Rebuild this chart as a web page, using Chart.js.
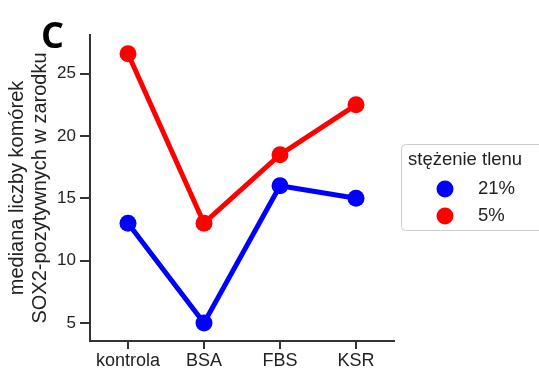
<!DOCTYPE html>
<html>
<head>
<meta charset="utf-8">
<script src="https://cdn.jsdelivr.net/npm/chart.js@4"></script>
<style>
  body { margin: 0; background: #fff; }
  #wrap { width: 539px; height: 370px; position: relative; }
</style>
</head>
<body>
<div id="wrap"><canvas id="chart" width="539" height="370"></canvas></div>
<script>
var categories = ["kontrola", "BSA", "FBS", "KSR"];
var series_names = ["21%", "5%"];
var values_21 = [13, 5, 16, 15];
var values_5 = [26.6, 13, 18.5, 22.5];
var y_ticks = [5, 10, 15, 20, 25];
var y_title = ["mediana liczby komórek", "SOX2-pozytywnych w zarodku"];
var legend_title = "stężenie tlenu";
var panel_label = "C";

var font_name = "'Liberation Sans', Arial, sans-serif";
var axis_col = "#333333";

// legend + panel letter drawn by hand, the built-in legend can't sit like this
var extras = {
    id: "extras",
    afterDraw: function (chart) {
        var ctx = chart.ctx;
        ctx.save();
        ctx.fillStyle = "#000";
        ctx.font = "bold 36px 'Open Sans', " + font_name;
        ctx.textBaseline = "alphabetic";
        ctx.fillText(panel_label, 41, 48);

        // legend frame
        ctx.strokeStyle = "#cccccc";
        ctx.lineWidth = 1;
        ctx.beginPath();
        ctx.roundRect(401.5, 144.5, 160, 86, 4);
        ctx.fillStyle = "#fff";
        ctx.fill();
        ctx.stroke();

        ctx.fillStyle = "#222";
        ctx.font = "18.5px " + font_name;
        ctx.fillText(legend_title, 408, 165);
        var ys = [189, 216];
        chart.data.datasets.forEach(function (ds, i) {
            ctx.beginPath();
            ctx.arc(445, ys[i], 8.5, 0, Math.PI * 2);
            ctx.fillStyle = ds.borderColor;
            ctx.fill();
            ctx.fillStyle = "#222";
            ctx.textBaseline = "middle";
            ctx.fillText(ds.label, 478, ys[i]);
        });
        ctx.restore();
    }
};

var chart = new Chart(document.getElementById("chart").getContext("2d"), {
    type: "line",
    data: {
        labels: categories,
        datasets: [
            {
                label: series_names[0],
                data: values_21,
                borderColor: "#0000ff",
                backgroundColor: "#0000ff",
                borderWidth: 5,
                pointRadius: 8.5,
                pointHoverRadius: 8.5,
                pointBorderWidth: 0
            },
            {
                label: series_names[1],
                data: values_5,
                borderColor: "#ff0000",
                backgroundColor: "#ff0000",
                borderWidth: 5,
                pointRadius: 8.5,
                pointHoverRadius: 8.5,
                pointBorderWidth: 0
            }
        ]
    },
    options: {
        responsive: false,
        animation: false,
        layout: { padding: { left: 0, top: 35, right: 145, bottom: 0 } },
        plugins: { legend: { display: false }, tooltip: { enabled: false } },
        scales: {
            x: {
                offset: true,
                grid: { display: true, drawOnChartArea: false, drawTicks: true, tickLength: 8, color: axis_col, lineWidth: 2, offset: false },
                border: { display: true, color: axis_col, width: 2 },
                ticks: { color: "#222", font: { family: font_name, size: 18 }, padding: 1 },
                afterFit: function (s) { s.height = 29; }
            },
            y: {
                min: 3.55,
                max: 28.1,
                grid: { display: true, drawOnChartArea: false, drawTicks: true, tickLength: 10, color: axis_col, lineWidth: 2 },
                border: { display: true, color: axis_col, width: 2 },
                ticks: { color: "#222", font: { family: font_name, size: 17 }, padding: 4 },
                afterBuildTicks: function (s) { s.ticks = y_ticks.map(function (v) { return { value: v }; }); },
                title: { display: true, text: y_title, color: "#222", font: { family: font_name, size: 20, lineHeight: 1.15 }, padding: { top: 6, bottom: 0 } },
                afterFit: function (s) { s.width = 90; }
            }
        }
    },
    plugins: [extras]
});
</script>
</body>
</html>
